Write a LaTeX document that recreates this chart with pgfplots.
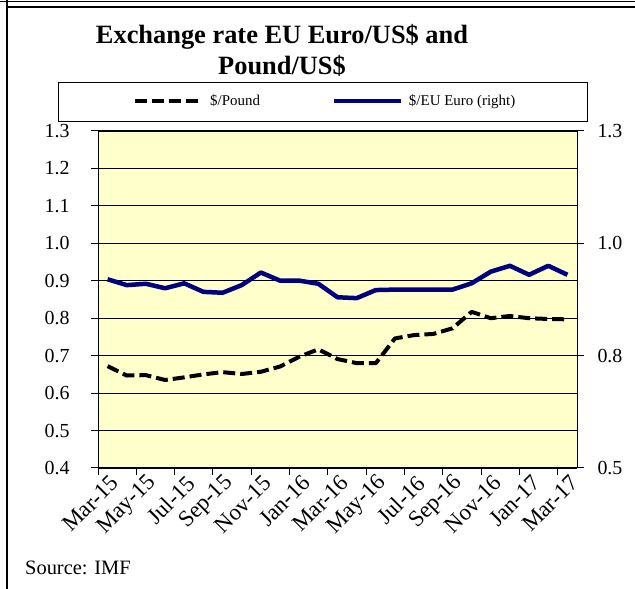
\documentclass[border=0pt]{standalone}
\usepackage{fontspec}
\setmainfont{Liberation Serif}
\usepackage{pgfplots}
\pgfplotsset{compat=1.18}
\definecolor{bgyellow}{RGB}{255,255,204}
\definecolor{euroblue}{RGB}{0,0,128}
\begin{document}
\begin{tikzpicture}[x=1bp,y=1bp]
\useasboundingbox (0,0) rectangle (635,589);
\draw[line width=0.8bp] (0,587.5) -- (635,587.5);
\draw[line width=1.2bp] (7,582) -- (635,582);
\draw[line width=1.2bp] (7,589) -- (7,0);
\node[font=\fontsize{26.5}{30}\selectfont\bfseries, anchor=base, inner sep=0] at (282,545) {Exchange rate EU Euro/US\$ and};
\node[font=\fontsize{26.5}{30}\selectfont\bfseries, anchor=base, inner sep=0] at (282,514) {Pound/US\$};
\draw[line width=1bp] (58,467) rectangle (587,506);
\node[anchor=base west, font=\fontsize{20.5}{24}\selectfont, inner sep=0] at (25,14) {Source: IMF};

\begin{axis}[
  at={(98bp,121bp)}, anchor=south west, scale only axis,
  width=479bp, height=337bp,
  xmin=-0.5, xmax=24.5, ymin=0.4, ymax=1.3,
  axis background/.style={fill=bgyellow},
  axis line style={black, line width=1bp},
  xtick={0,2,4,6,8,10,12,14,16,18,20,22,24},
  xticklabels={Mar-15,May-15,Jul-15,Sep-15,Nov-15,Jan-16,Mar-16,May-16,Jul-16,Sep-16,Nov-16,Jan-17,Mar-17},
  xticklabel style={rotate=45, anchor=east, inner sep=1bp, xshift=3bp, yshift=-8bp, font=\fontsize{23}{27}\selectfont},
  major x tick style={draw=none},
  minor xtick={-0.5,1.5,3.5,5.5,7.5,9.5,11.5,13.5,15.5,17.5,19.5,21.5,23.5},
  minor x tick style={draw=black, line width=1bp},
  minor tick length=7bp,
  ytick={0.4,0.5,0.6,0.7,0.8,0.9,1.0,1.1,1.2,1.3},
  yticklabels={0.4,0.5,0.6,0.7,0.8,0.9,1.0,1.1,1.2,1.3},
  yticklabel style={font=\fontsize{20}{24}\selectfont, xshift=-18bp},
  major y tick style={draw=black, line width=1bp},
  tick align=outside, major tick length=7bp,
  ytick pos=left, xtick pos=bottom,
  ymajorgrids, major grid style={black, line width=0.8bp},
  legend columns=2,
  legend style={draw=none, fill=none, at={(0.0668,1.089)}, anchor=west,
    font=\fontsize{15}{17}\selectfont,
    /tikz/every odd column/.append style={column sep=4bp},
    /tikz/every even column/.append style={column sep=70bp}},
  legend image code/.code={\draw[#1] (0bp,0bp) -- (67bp,0bp);},
]
\addplot[black, line width=4bp, dash pattern=on 12bp off 5bp, line join=round] coordinates {
(0,0.672)(1,0.647)(2,0.648)(3,0.635)(4,0.642)(5,0.650)(6,0.656)(7,0.651)(8,0.657)(9,0.671)(10,0.697)(11,0.717)(12,0.691)(13,0.680)(14,0.680)(15,0.746)(16,0.755)(17,0.758)(18,0.773)(19,0.817)(20,0.800)(21,0.806)(22,0.800)(23,0.798)(24,0.797)};
\addlegendentry{\$/Pound}
\addlegendimage{euroblue, line width=4bp}
\addlegendentry{\$/EU Euro (right)}
\end{axis}

\begin{axis}[
  at={(98bp,121bp)}, anchor=south west, scale only axis,
  width=479bp, height=337bp,
  xmin=-0.5, xmax=24.5, ymin=0.5, ymax=1.25,
  axis x line=none, axis y line*=right, ytick pos=right,
  axis line style={-, black, line width=1bp},
  ytick={0.5,0.75,1.0,1.25},
  yticklabels={0.5,0.8,1.0,1.3},
  yticklabel style={font=\fontsize{20}{24}\selectfont, xshift=10bp},
  major y tick style={draw=black, line width=1bp},
  tick align=outside, major tick length=7bp,
]
\addplot[euroblue, line width=4.5bp, line join=round] coordinates {
(0,0.920)(1,0.907)(2,0.910)(3,0.900)(4,0.911)(5,0.892)(6,0.890)(7,0.907)(8,0.935)(9,0.917)(10,0.917)(11,0.910)(12,0.880)(13,0.878)(14,0.896)(15,0.897)(16,0.897)(17,0.897)(18,0.897)(19,0.911)(20,0.937)(21,0.950)(22,0.930)(23,0.950)(24,0.930)};
\end{axis}
\end{tikzpicture}
\end{document}
